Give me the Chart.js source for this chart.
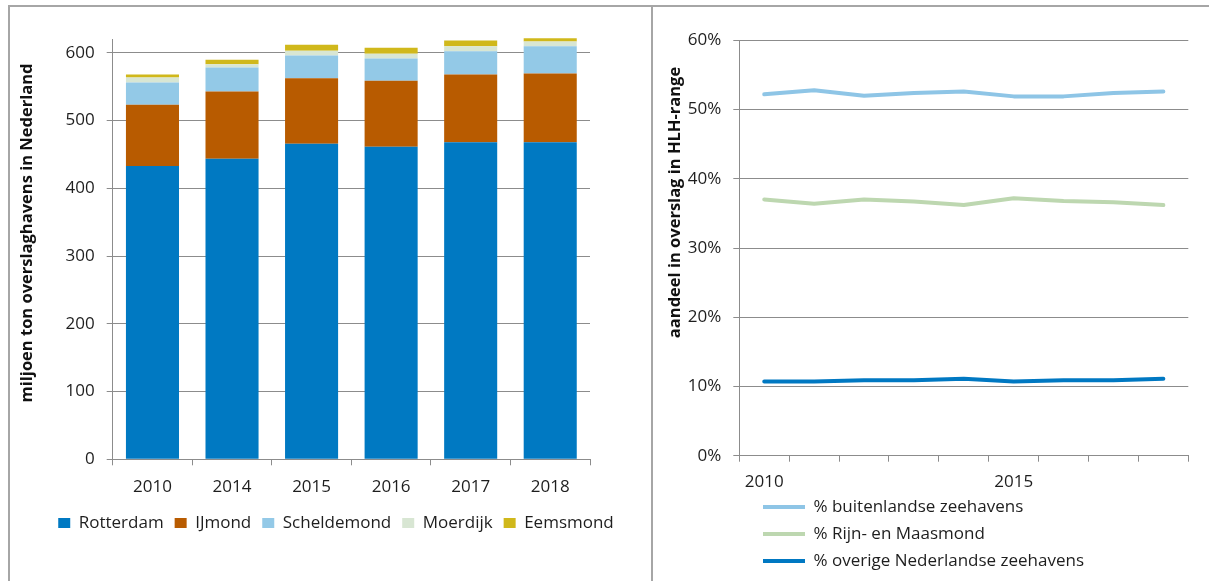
<!DOCTYPE html>
<html>
<head>
<meta charset="utf-8">
<script src="https://cdn.jsdelivr.net/npm/chart.js@4.4.1/dist/chart.umd.min.js"></script>
<style>
  html, body { margin: 0; padding: 0; background: #fff; width: 1209px; height: 581px; overflow: hidden; }
  .frame { position: absolute; left: 8px; top: 5px; width: 1300px; height: 700px;
           border-top: 2px solid #a6a6a6; border-left: 2px solid #a6a6a6; }
  .divider { position: absolute; left: 651px; top: 5px; width: 2px; height: 600px; background: #a6a6a6; }
  #barChart { position: absolute; left: 10px; top: 7px; }
  #lineChart { position: absolute; left: 653px; top: 7px; }
</style>
</head>
<body>
<div class="frame"></div>
<div class="divider"></div>
<canvas id="barChart" width="641" height="574"></canvas>
<canvas id="lineChart" width="556" height="574"></canvas>
<script>
// left: overslag per havenregio (miljoen ton)
const years = ['2010', '2014', '2015', '2016', '2017', '2018'];
const rotterdam = [432.8, 443.8, 465.9, 461.5, 468.2, 468.2];
const ijmond = [90.6, 99.2, 96.7, 97.3, 99.8, 101.3];
const scheldemond = [32.8, 35.4, 33.5, 32.8, 34.4, 40.3];
const moerdijk = [7.4, 4.8, 6.9, 7.0, 7.4, 6.9];
const eemsmond = [4.4, 6.5, 8.8, 8.8, 8.4, 4.9];
const tonTicks = [0, 100, 200, 300, 400, 500, 600];

// right: aandeel in HLH-range (%)
const shareYears = ['2010', '2011', '2012', '2013', '2014', '2015', '2016', '2017', '2018'];
const shownYears = ['2010', '2015'];
const buitenlands = [52.2, 52.8, 52.0, 52.4, 52.6, 51.9, 51.9, 52.4, 52.6];
const rijnMaas = [37.0, 36.4, 37.0, 36.7, 36.2, 37.2, 36.8, 36.6, 36.2];
const overig = [10.7, 10.7, 10.9, 10.9, 11.1, 10.7, 10.9, 10.9, 11.1];

const FONT = '"Open Sans", "DejaVu Sans", sans-serif';
const TEXT = '#1e1e1e';
const GRID = '#8c8c8c';

// rotated axis title at a fixed spot (Excel places it off-center)
const axisTitle = {
  id: 'axisTitle',
  afterDraw(chart, args, opts) {
    const ctx = chart.ctx;
    ctx.save();
    ctx.translate(opts.x, opts.y);
    ctx.rotate(-Math.PI / 2);
    ctx.font = 'bold 16.5px ' + FONT;
    ctx.fillStyle = '#111';
    ctx.textAlign = 'center';
    ctx.textBaseline = 'middle';
    ctx.fillText(opts.text, 0, 0);
    ctx.restore();
  }
};

// nudge the legend sideways after layout
const legendShift = {
  id: 'legendShift',
  afterLayout(chart, args, opts) {
    if (chart.legend && opts.dx) {
      chart.legend.left += opts.dx;
      chart.legend.right += opts.dx;
    }
  }
};

function draw() {
  new Chart(document.getElementById('barChart'), {
    type: 'bar',
    data: {
      labels: years,
      datasets: [
        { label: 'Rotterdam', data: rotterdam, backgroundColor: '#0079c2' },
        { label: 'IJmond', data: ijmond, backgroundColor: '#b85b00' },
        { label: 'Scheldemond', data: scheldemond, backgroundColor: '#93c9e7' },
        { label: 'Moerdijk', data: moerdijk, backgroundColor: '#d8e6d3' },
        { label: 'Eemsmond', data: eemsmond, backgroundColor: '#d0b81b' },
      ].map(d => ({ ...d, borderWidth: 0, barPercentage: 0.667, categoryPercentage: 1, clip: false })),
    },
    options: {
      responsive: false,
      animation: false,
      layout: { padding: { top: 32.3, right: 61, bottom: 39.5, left: 0 } },
      plugins: {
        legend: {
          position: 'bottom',
          labels: { font: { family: FONT, size: 17 }, color: TEXT, boxWidth: 12, boxHeight: 10, padding: 11 },
        },
        legendShift: { dx: 36 },
        tooltip: { enabled: false },
        axisTitle: { text: 'miljoen ton overslaghavens in Nederland', x: 17, y: 226 },
      },
      scales: {
        x: {
          stacked: true,
          afterFit: (s) => { s.height = 44.2; },
          grid: { drawOnChartArea: false, color: GRID, tickLength: 6 },
          border: { color: GRID },
          ticks: { font: { family: FONT, size: 17 }, color: TEXT, padding: 12, maxRotation: 0 },
        },
        y: {
          stacked: true,
          min: 0,
          max: 620,
          afterFit: (s) => { s.width = 102.7; },
          afterBuildTicks: (s) => { s.ticks = tonTicks.map(value => ({ value })); },
          grid: { color: GRID, tickLength: 6 },
          border: { color: GRID },
          ticks: { font: { family: FONT, size: 17 }, color: TEXT, padding: 12 },
        },
      },
    },
    plugins: [axisTitle, legendShift],
  });

  new Chart(document.getElementById('lineChart'), {
    type: 'line',
    data: {
      labels: shareYears,
      datasets: [
        { label: '% buitenlandse zeehavens', data: buitenlands, borderColor: '#8ec5e6' },
        { label: '% Rijn- en Maasmond', data: rijnMaas, borderColor: '#bdd7b0' },
        { label: '% overige Nederlandse zeehavens', data: overig, borderColor: '#0078c2' },
      ].map(d => ({ ...d, backgroundColor: d.borderColor, borderWidth: 4, pointRadius: 0,
                    tension: 0, borderJoinStyle: 'round', borderCapStyle: 'round' })),
    },
    options: {
      responsive: false,
      animation: false,
      layout: { padding: { top: 33.3, right: 20.7, bottom: 1.5, left: 0 } },
      plugins: {
        legend: {
          position: 'bottom',
          align: 'start',
          fullSize: false,
          labels: {
            font: { family: FONT, size: 17 }, color: TEXT, padding: 10,
            usePointStyle: true, pointStyle: 'line', pointStyleWidth: 42,
          },
        },
        legendShift: { dx: 13.7 },
        tooltip: { enabled: false },
        axisTitle: { text: 'aandeel in overslag in HLH-range', x: 22, y: 195.5 },
      },
      scales: {
        x: {
          offset: true,
          afterFit: (s) => { s.height = 32.8; },
          grid: { offset: true, drawOnChartArea: false, color: GRID, tickLength: 6 },
          border: { color: GRID },
          ticks: {
            autoSkip: false, maxRotation: 0, font: { family: FONT, size: 17 }, color: TEXT, padding: 10,
            callback: function (v) { const l = this.getLabelForValue(v); return shownYears.includes(l) ? l : ''; },
          },
        },
        y: {
          min: 0,
          max: 60,
          afterFit: (s) => { s.width = 86.3; },
          grid: { color: GRID, tickLength: 6 },
          border: { color: GRID },
          ticks: { stepSize: 10, font: { family: FONT, size: 17 }, color: TEXT, padding: 12, callback: (v) => v + '%' },
        },
      },
    },
    plugins: [axisTitle, legendShift],
  });
}

Promise.all([
  document.fonts.load('17px "Open Sans"'),
  document.fonts.load('bold 16.5px "Open Sans"'),
]).then(draw, draw);
</script>
</body>
</html>
